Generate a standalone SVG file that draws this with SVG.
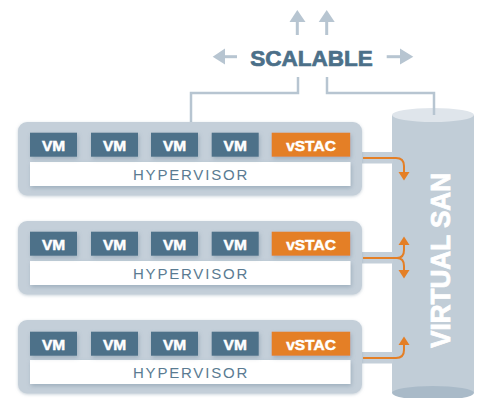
<svg xmlns="http://www.w3.org/2000/svg" width="477" height="398" viewBox="0 0 477 398">
<defs>
<filter id="sh" x="-20%" y="-30%" width="140%" height="170%">
<feDropShadow dx="1" dy="2" stdDeviation="2" flood-color="#6f8699" flood-opacity="0.45"/>
</filter>
<filter id="sh2" x="-10%" y="-20%" width="120%" height="150%">
<feDropShadow dx="0" dy="1" stdDeviation="1.5" flood-color="#8fa2b2" flood-opacity="0.5"/>
</filter>
</defs>
<style>
.host{fill:#c4cfd9}
.vm{fill:#4e7189}
.vs{fill:#e47f26}
.hv{fill:#ffffff}
.lbl{font-family:"Liberation Sans",Arial,sans-serif;font-weight:bold;fill:#ffffff;stroke:#ffffff;stroke-width:0.5;text-anchor:middle;font-size:15.5px}
.hvt{font-family:"Liberation Sans",Arial,sans-serif;fill:#5a7b92;text-anchor:middle;font-size:15px;letter-spacing:1.8px}
.gl{fill:none;stroke:#b7c5d1;stroke-width:2.5}
.ga{fill:#b7c5d1}
.ol{fill:none;stroke:#e47f26;stroke-width:2}
.oa{fill:#e47f26}
.band{fill:#c4cfd9}
</style>

<g id="scalable">
<text x="311.5" y="66" font-family="Liberation Sans,Arial,sans-serif" font-weight="bold" font-size="22.5" fill="#4c7089" stroke="#4c7089" stroke-width="0.7" text-anchor="middle">SCALABLE</text>
<rect class="ga" x="295.8" y="21" width="3" height="14"/>
<polygon class="ga" points="289.5,22 305.5,22 297.3,10"/>
<rect class="ga" x="325.2" y="21" width="3" height="14"/>
<polygon class="ga" points="318.7,22 334.7,22 326.7,10"/>
<rect class="ga" x="224" y="55.2" width="13" height="3"/>
<polygon class="ga" points="225,48.5 225,64.5 212.7,56.7"/>
<rect class="ga" x="386.7" y="55.2" width="14" height="3"/>
<polygon class="ga" points="400,48.5 400,64.5 413.3,56.7"/>
</g>

<g id="virtual-san">
<rect x="392" y="115" width="82" height="278" fill="#c1cdd7"/>
<ellipse cx="433" cy="393" rx="41" ry="7" fill="#a9bac8"/>
<ellipse cx="433" cy="115" rx="41" ry="7" fill="#dfe5eb"/>
<text transform="translate(450,260.5) rotate(-90)" x="0" y="0" font-family="Liberation Sans,Arial,sans-serif" font-weight="bold" font-size="27" fill="#ffffff" stroke="#ffffff" stroke-width="0.8" text-anchor="middle" textLength="175" lengthAdjust="spacingAndGlyphs">VIRTUAL SAN</text>
</g>

<g id="connectors">
<polyline class="gl" points="191,122 191,93 298,93 298,77"/>
<polyline class="gl" points="327,77 327,93 434,93 434,115"/>
<rect class="band" x="360" y="152" width="33" height="11.5"/>
<rect class="band" x="360" y="252" width="33" height="11.5"/>
<rect class="band" x="360" y="352" width="33" height="11.5"/>
<path class="ol" d="M363,158 H396 Q404,158 404,166 V173"/>
<polygon class="oa" points="398.5,172 409.5,172 404,180.5"/>
<path class="ol" d="M363,258 H397 Q404,258 404,250 V245 M397,258 Q404,258 404,266 V271"/>
<polygon class="oa" points="398.5,245 409.5,245 404,236.5"/>
<polygon class="oa" points="398.5,270 409.5,270 404,278.5"/>
<path class="ol" d="M363,358 H396 Q404,358 404,350 V344"/>
<polygon class="oa" points="398.5,345 409.5,345 404,336.5"/>
</g>

<g id="host1">
<rect class="host" x="18" y="122" width="344" height="73.5" rx="9" filter="url(#sh2)"/>
<rect class="hv" x="30" y="162" width="320.5" height="24" filter="url(#sh)"/>
<rect class="vm" x="30" y="132.7" width="47" height="24" filter="url(#sh)"/>
<rect class="vm" x="91" y="132.7" width="47" height="24" filter="url(#sh)"/>
<rect class="vm" x="151" y="132.7" width="47" height="24" filter="url(#sh)"/>
<rect class="vm" x="211.7" y="132.7" width="47" height="24" filter="url(#sh)"/>
<rect class="vs" x="271.7" y="132.7" width="78.5" height="24" filter="url(#sh)"/>
<text class="lbl" x="53.5" y="150.5">VM</text>
<text class="lbl" x="114.5" y="150.5">VM</text>
<text class="lbl" x="174.5" y="150.5">VM</text>
<text class="lbl" x="235.2" y="150.5">VM</text>
<text class="lbl" x="311" y="150.5" font-size="15">vSTAC</text>
<text class="hvt" x="191" y="180">HYPERVISOR</text>
</g>

<g id="host2">
<rect class="host" x="18" y="221" width="344" height="73.5" rx="9" filter="url(#sh2)"/>
<rect class="hv" x="30" y="261" width="320.5" height="24" filter="url(#sh)"/>
<rect class="vm" x="30" y="231.7" width="47" height="24" filter="url(#sh)"/>
<rect class="vm" x="91" y="231.7" width="47" height="24" filter="url(#sh)"/>
<rect class="vm" x="151" y="231.7" width="47" height="24" filter="url(#sh)"/>
<rect class="vm" x="211.7" y="231.7" width="47" height="24" filter="url(#sh)"/>
<rect class="vs" x="271.7" y="231.7" width="78.5" height="24" filter="url(#sh)"/>
<text class="lbl" x="53.5" y="249.5">VM</text>
<text class="lbl" x="114.5" y="249.5">VM</text>
<text class="lbl" x="174.5" y="249.5">VM</text>
<text class="lbl" x="235.2" y="249.5">VM</text>
<text class="lbl" x="311" y="249.5" font-size="15">vSTAC</text>
<text class="hvt" x="191" y="279">HYPERVISOR</text>
</g>

<g id="host3">
<rect class="host" x="18" y="320" width="344" height="73.5" rx="9" filter="url(#sh2)"/>
<rect class="hv" x="30" y="360" width="320.5" height="24" filter="url(#sh)"/>
<rect class="vm" x="30" y="331.7" width="47" height="24" filter="url(#sh)"/>
<rect class="vm" x="91" y="331.7" width="47" height="24" filter="url(#sh)"/>
<rect class="vm" x="151" y="331.7" width="47" height="24" filter="url(#sh)"/>
<rect class="vm" x="211.7" y="331.7" width="47" height="24" filter="url(#sh)"/>
<rect class="vs" x="271.7" y="331.7" width="78.5" height="24" filter="url(#sh)"/>
<text class="lbl" x="53.5" y="349.5">VM</text>
<text class="lbl" x="114.5" y="349.5">VM</text>
<text class="lbl" x="174.5" y="349.5">VM</text>
<text class="lbl" x="235.2" y="349.5">VM</text>
<text class="lbl" x="311" y="349.5" font-size="15">vSTAC</text>
<text class="hvt" x="191" y="378">HYPERVISOR</text>
</g>
</svg>
